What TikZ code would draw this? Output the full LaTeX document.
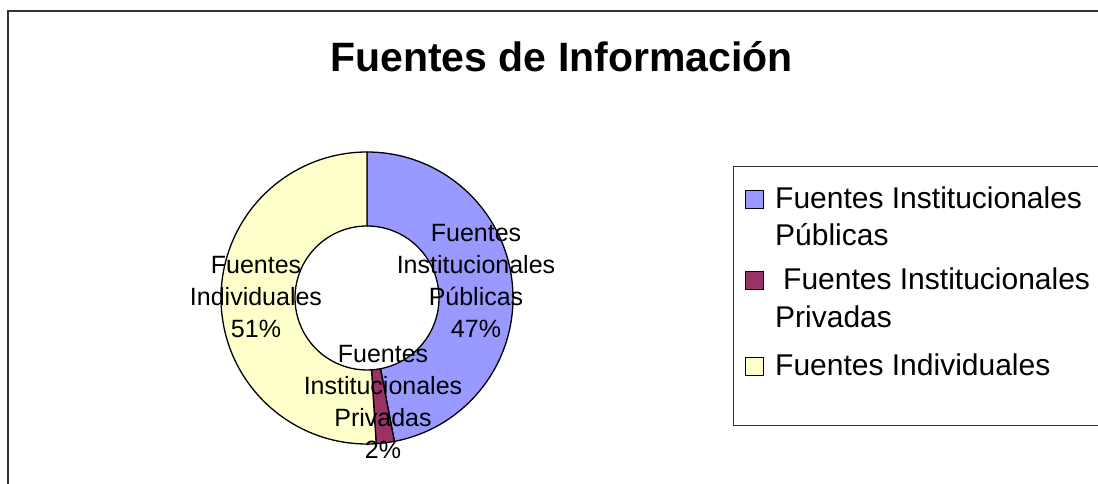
\documentclass[tikz,border=0pt]{standalone}
\usepackage{fontspec}
\usetikzlibrary{calc}
\setmainfont{Liberation Sans}
\definecolor{pub}{HTML}{9999FF}
\definecolor{priv}{HTML}{993366}
\definecolor{indiv}{HTML}{FFFFCC}
\definecolor{frame}{HTML}{333333}
\begin{document}
\begin{tikzpicture}[x=1pt,y=1pt,
  wedge/.style={draw=black,line width=1.3pt,line join=round},
  lbl/.style={inner sep=0pt,anchor=base,font=\fontsize{25}{30}\selectfont},
  legtxt/.style={inner sep=0pt,anchor=base west,font=\fontsize{30}{36}\selectfont},
  legsq/.style={draw=black,line width=1pt,minimum size=18pt,inner sep=0pt,anchor=south west}]
\useasboundingbox (0,0) rectangle (1098,484);
\fill[white] (0,0) rectangle (1098,484);
% outer frame
\draw[frame,line width=2.2pt] (8,0) -- (8,473) -- (1098,473);
% title
\node[inner sep=0pt,anchor=base,font=\fontsize{41}{50}\selectfont\bfseries] (title) at (561.5,412) {Fuentes de Información};
% donut
\coordinate (c) at (367,186);
\def\R{146}\def\r{72}
\path[wedge,fill=pub] ($(c)+(90:\R)$) arc (90:-79.2:\R) -- ($(c)+(-79.2:\r)$) arc (-79.2:90:\r) -- cycle;
\path[wedge,fill=priv] ($(c)+(-79.2:\R)$) arc (-79.2:-86.4:\R) -- ($(c)+(-86.4:\r)$) arc (-86.4:-79.2:\r) -- cycle;
\path[wedge,fill=indiv] ($(c)+(-86.4:\R)$) arc (-86.4:-270:\R) -- ($(c)+(-270:\r)$) arc (-270:-86.4:\r) -- cycle;
% data labels
\node[lbl] (p1) at (476,242) {Fuentes};
\node[lbl] (p2) at (476,210) {Institucionales};
\node[lbl] (p3) at (476,178) {Públicas};
\node[lbl] (p4) at (476,146) {47\%};
\node[lbl] (i1) at (256,210) {Fuentes};
\node[lbl] (i2) at (256,178) {Individuales};
\node[lbl] (i3) at (256,146) {51\%};
\node[lbl] (v1) at (383,121) {Fuentes};
\node[lbl] (v2) at (383,89) {Institucionales};
\node[lbl] (v3) at (383,57) {Privadas};
\node[lbl] (v4) at (383,25) {2\%};
% legend
\draw[frame,line width=1pt] (1098,317) -- (733,317) -- (733,58) -- (1098,58);
\node[legsq,fill=pub] (s1) at (745,275) {};
\node[legsq,fill=priv] (s2) at (745,194) {};
\node[legsq,fill=indiv] (s3) at (745,108) {};
\node[legtxt] (t1a) at (775,275) {Fuentes Institucionales};
\node[legtxt] (t1b) at (775,238) {Públicas};
\node[legtxt] (t2a) at (783,194) {Fuentes Institucionales};
\node[legtxt] (t2b) at (775,156) {Privadas};
\node[legtxt] (t3a) at (775,108) {Fuentes Individuales};
\end{tikzpicture}
\end{document}
